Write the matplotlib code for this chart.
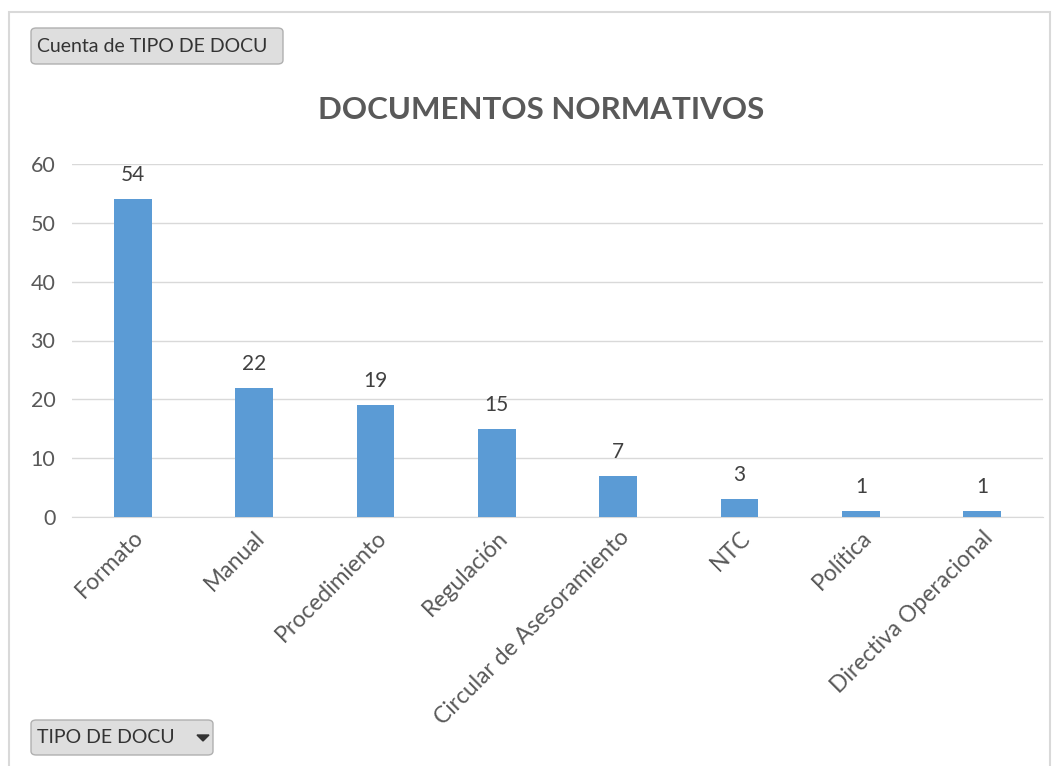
"""Recreación del gráfico dinámico DOCUMENTOS NORMATIVOS (Matplotlib)."""

import matplotlib.pyplot as plt
from matplotlib.patches import FancyBboxPatch, Polygon, Rectangle

categorias = [
    "Formato",
    "Manual",
    "Procedimiento",
    "Regulación",
    "Circular de Asesoramiento",
    "NTC",
    "Política",
    "Directiva Operacional",
]
cuentas = [54, 22, 19, 15, 7, 3, 1, 1]
ticks_y = [0, 10, 20, 30, 40, 50, 60]

W, H = 1057, 766
GRIS_TXT = "#595959"
AZUL = "#5b9bd5"


def main() -> None:
    plt.rcParams["font.family"] = ["Lato", "DejaVu Sans"]

    fig = plt.figure(figsize=(W / 100, H / 100), dpi=100)
    fig.patch.set_facecolor("white")

    # marco del área del gráfico
    fig.add_artist(Rectangle((9 / W, -0.01), (1050 - 9) / W, (H - 12) / H + 0.01,
                             transform=fig.transFigure, fill=False,
                             edgecolor="#d9d9d9", linewidth=1.5))

    ax = fig.add_axes([72 / W, (H - 517) / H, (1043 - 72) / W, (517 - 164) / H])
    x = range(len(categorias))
    bars = ax.bar(x, cuentas, width=0.31, color=AZUL, zorder=3)
    for b, v in zip(bars, cuentas):
        ax.annotate(str(v), (b.get_x() + b.get_width() / 2, v),
                    xytext=(0, 10), textcoords="offset points",
                    ha="center", va="bottom", fontsize=15, color="#404040")

    ax.set_xlim(-0.5, len(categorias) - 0.5)
    ax.set_ylim(0, 60)
    ax.set_yticks(ticks_y)
    ax.yaxis.grid(True, color="#d9d9d9", linewidth=1)
    ax.set_axisbelow(True)
    for s in ["top", "right", "left"]:
        ax.spines[s].set_visible(False)
    ax.spines["bottom"].set_color("#d9d9d9")
    ax.tick_params(axis="both", length=0, labelsize=15.5, labelcolor=GRIS_TXT)
    ax.tick_params(axis="y", pad=12)
    ax.set_xticks(list(x))
    ax.set_xticklabels(categorias, rotation=45, ha="right",
                       rotation_mode="anchor")
    ax.tick_params(axis="x", pad=7, labelsize=16.5)

    fig.text(541 / W, 1 - 110 / H, "DOCUMENTOS NORMATIVOS", ha="center",
             va="center", fontsize=22.5, fontweight="bold", color=GRIS_TXT)

    # botones de campo de la tabla dinámica
    def boton(x0, y0, x1, y1, texto):
        fig.add_artist(FancyBboxPatch(
            (x0 / W, 1 - y1 / H), (x1 - x0) / W, (y1 - y0) / H,
            boxstyle="round,pad=0,rounding_size=0.005",
            transform=fig.transFigure, facecolor="#dedede",
            edgecolor="#b0b0b0", linewidth=1))
        fig.text((x0 + 6) / W, 1 - (y0 + y1) / 2 / H, texto, ha="left",
                 va="center", fontsize=14, color="#333333")

    boton(31, 28, 283, 64, "Cuenta de TIPO DE DOCU")
    boton(31, 720, 213, 755, "TIPO DE DOCU")
    fig.add_artist(Polygon([(197 / W, 1 - 735 / H), (209 / W, 1 - 735 / H),
                            (203 / W, 1 - 741 / H)], closed=True,
                           transform=fig.transFigure, color="#333333"))

    fig.savefig("out.png", dpi=100)
    plt.close(fig)


if __name__ == "__main__":
    main()
